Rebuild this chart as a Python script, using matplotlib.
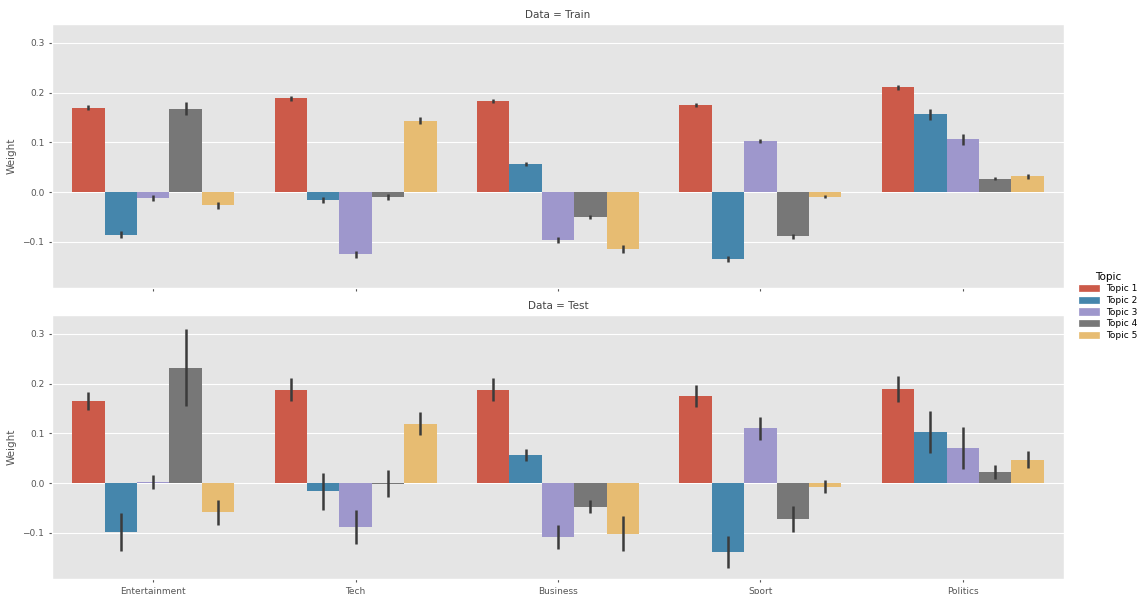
import matplotlib
matplotlib.use("Agg")
import matplotlib.pyplot as plt
import matplotlib.patches as mpatches
import numpy as np
import seaborn as sns

plt.style.use("ggplot")

categories = ["Entertainment", "Tech", "Business", "Sport", "Politics"]
topics = ["Topic 1", "Topic 2", "Topic 3", "Topic 4", "Topic 5"]

# mean weight per topic (rows) for each category (columns)
train_mean = [
    [0.170, 0.189, 0.183, 0.176, 0.211],
    [-0.086, -0.017, 0.056, -0.135, 0.156],
    [-0.012, -0.125, -0.097, 0.103, 0.106],
    [0.168, -0.010, -0.050, -0.089, 0.027],
    [-0.027, 0.143, -0.115, -0.009, 0.032],
]
train_err = [
    [0.005, 0.005, 0.004, 0.004, 0.005],
    [0.007, 0.006, 0.004, 0.006, 0.012],
    [0.006, 0.007, 0.006, 0.004, 0.011],
    [0.013, 0.006, 0.004, 0.005, 0.003],
    [0.007, 0.007, 0.008, 0.004, 0.005],
]
test_mean = [
    [0.165, 0.188, 0.188, 0.175, 0.189],
    [-0.098, -0.017, 0.057, -0.139, 0.103],
    [0.002, -0.089, -0.108, 0.110, 0.070],
    [0.232, -0.001, -0.048, -0.072, 0.022],
    [-0.059, 0.119, -0.102, -0.007, 0.047],
]
test_err = [
    [0.018, 0.023, 0.024, 0.023, 0.026],
    [0.038, 0.038, 0.012, 0.032, 0.042],
    [0.014, 0.034, 0.024, 0.023, 0.042],
    [0.077, 0.027, 0.013, 0.026, 0.014],
    [0.025, 0.023, 0.035, 0.014, 0.017],
]

base_colors = ["#E24A33", "#348ABD", "#988ED5", "#777777", "#FBC15E"]
colors = [sns.desaturate(c, 0.75) for c in base_colors]

fig = plt.figure(figsize=(11.37, 5.94), dpi=100)
ax_top = fig.add_axes([0.0457, 0.5152, 0.8901, 0.4444])
ax_bot = fig.add_axes([0.0457, 0.0253, 0.8901, 0.4444], sharex=ax_top, sharey=ax_top)

x = np.arange(len(categories))
w = 0.8 / len(topics)

for ax, means, errs, title in [(ax_top, train_mean, train_err, "Data = Train"),
                               (ax_bot, test_mean, test_err, "Data = Test")]:
    for i, t in enumerate(topics):
        pos = x - 0.4 + w * (i + 0.5)
        ax.bar(pos, means[i], width=w, color=colors[i], linewidth=0)
        ax.vlines(pos, np.array(means[i]) - np.array(errs[i]),
                  np.array(means[i]) + np.array(errs[i]), color="#3b3b3b", lw=1.8)
    ax.set_title(title, fontsize=7.5, color="#444444", pad=4)
    ax.set_ylabel("Weight", fontsize=7.5, color="#555555")
    ax.xaxis.grid(False)
    ax.tick_params(labelsize=6.5, colors="#555555", length=2)
    ax.set_xlabel("")

ax_top.set_xlim(-0.5, 4.5)
ax_top.set_ylim(-0.193, 0.338)
ax_top.set_yticks([-0.1, 0.0, 0.1, 0.2, 0.3])
ax_bot.set_xticks(x)
ax_bot.set_xticklabels(categories)
ax_top.tick_params(labelbottom=False)

handles = [mpatches.Patch(color=colors[i], label=t) for i, t in enumerate(topics)]
leg = fig.legend(handles=handles, title="Topic", loc="center left",
                 bbox_to_anchor=(0.942, 0.485), frameon=False, fontsize=6.5,
                 title_fontsize=7.5, handlelength=2.2, labelspacing=0.3)

fig.savefig("out.png", dpi=100)
